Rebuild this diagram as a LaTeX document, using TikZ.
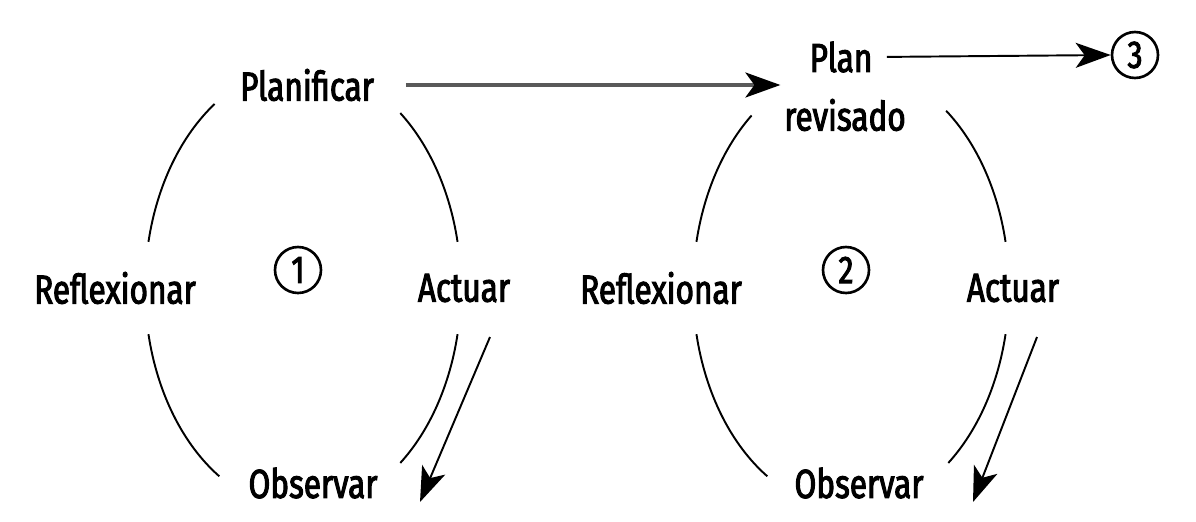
\documentclass[tikz,border=0pt]{standalone}
\usepackage{fontspec}
\setmainfont{Fira Sans}[FakeStretch=0.78, FakeBold=2.5]
\usetikzlibrary{arrows.meta, positioning}

\begin{document}
\begin{tikzpicture}[
    x=0.02cm, y=-0.02cm,
    stage/.style={
        font=\fontsize{23}{26}\selectfont,
        inner sep=2pt
    },
    cyclenum/.style={
        draw,
        circle,
        line width=1.5pt,
        minimum size=0.92cm,
        inner sep=0pt,
        font=\fontsize{22}{24}\selectfont
    },
    cyclearc/.style={
        line width=1.1pt
    },
    link/.style={
        -{Stealth[length=7mm, width=5mm, inset=1.8mm]},
        line width=1.1pt
    },
    dimlink/.style={
        -{Stealth[length=7mm, width=5mm, inset=1.8mm, black]},
        line width=2pt,
        black!65
    }
]
    \useasboundingbox (0,0) rectangle (1196,521);

    % first cycle
    \coordinate (c1) at (303,288);
    \node[stage] (plan1) at (307,85) {Planificar};
    \node[stage] (refl1) at (115,288) {Reflexionar};
    \node[stage] (act1) at (464,288) {Actuar};
    \node[stage] (obs1) at (313,483) {Observar};
    \node[cyclenum] (num1) at (298,270) {1};

    % second cycle
    \coordinate (c2) at (851,288);
    \node[stage] (plan2) at (841,57) {Plan};
    \node[stage] (revisado) at (845,115) {revisado};
    \node[stage] (refl2) at (661,288) {Reflexionar};
    \node[stage] (act2) at (1013,288) {Actuar};
    \node[stage] (obs2) at (859,483) {Observar};
    \node[cyclenum] (num2) at (846,270) {2};

    \node[cyclenum] (num3) at (1135,55) {3};

    \draw[cyclearc] (c1) ++(-124:158 and 222) arc[start angle=-124, end angle=-168, x radius=158, y radius=222];
    \draw[cyclearc] (c1) ++(-52:158 and 222) arc[start angle=-52, end angle=-12, x radius=158, y radius=222];
    \draw[cyclearc] (c1) ++(12:158 and 222) arc[start angle=12, end angle=52, x radius=158, y radius=222];
    \draw[cyclearc] (c1) ++(168:158 and 222) arc[start angle=168, end angle=122, x radius=158, y radius=222];

    \draw[cyclearc] (c2) ++(-129:158 and 222) arc[start angle=-129, end angle=-168, x radius=158, y radius=222];
    \draw[cyclearc] (c2) ++(-53:158 and 222) arc[start angle=-53, end angle=-12, x radius=158, y radius=222];
    \draw[cyclearc] (c2) ++(12:158 and 222) arc[start angle=12, end angle=52, x radius=158, y radius=222];
    \draw[cyclearc] (c2) ++(168:158 and 222) arc[start angle=168, end angle=122, x radius=158, y radius=222];

    \coordinate (act1out) at (490,337);
    \coordinate (obs1in) at (420,502);
    \coordinate (act2out) at (1037,337);
    \coordinate (obs2in) at (973,502);

    \draw[link] (act1out) -- (obs1in);
    \draw[link] (act2out) -- (obs2in);
    \draw[dimlink, shorten <=16pt] (plan1.east) -- (plan1.east -| revisado.west);
    \draw[link, shorten <=6pt] (plan2.east) -- (num3.west);
\end{tikzpicture}
\end{document}
